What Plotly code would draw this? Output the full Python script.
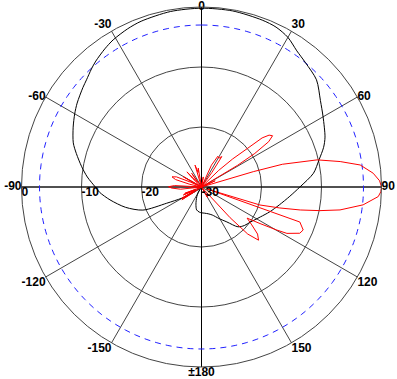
import plotly.graph_objects as go

# ---- data (angles in degrees, clockwise from top; levels in dB) ----
black_theta = [-180, -175, -168, -162, -154, -148, -140, -132, -126, -122, -119.5, -115, -111.5,
               -105, -98, -93, -90, -85, -80.4, -75, -71, -65, -60, -56, -50, -47, -43, -40,
               -35, -31, -25, -20, -10, 0, 10, 20, 25, 30, 35, 40, 47, 54, 60, 68, 72, 77, 83,
               90, 96, 103, 110, 117, 126, 132, 137.5, 144, 151, 159, 166, 173, 180]
black_db = [-25.7, -25.8, -26.1, -27.0, -28.2, -29.0, -29.7, -29.6, -28.8, -27.3, -26.2, -23.6, -19.5,
            -16.9, -14.6, -13.0, -12.3, -10.9, -9.75, -8.4, -7.4, -6.4, -5.6, -5.0, -4.2, -3.8, -3.1, -2.6,
            -1.9, -1.4, -0.9, -0.6, -0.3, -0.2, -0.2, -0.4, -0.6, -1.2, -2.3, -3.0, -3.8, -5.5, -6.6, -7.8,
            -8.6, -9.9, -11.2, -13.6, -15.2, -16.7, -17.9, -19.0, -20.0, -20.4, -21.0, -22.8, -24.0,
            -25.0, -25.4, -25.6, -25.7]

red_theta = [-180, -130, -125, -123, -121.5, -119.7, -117, -113.7, -112.3, -110.9, -108,
             -99, -96, -92, -89.5, -87, -85, -79, -77, -74, -71, -68, -66, -64, -62, -60.5,
             -58.5, -52, -46, -44, -42, -38, -35.6, -33, -20, -16.5, -13, -9.7, -7, 5, 10, 13,
             22, 24.5, 28, 31, 33.7, 35.5, 37, 44, 46, 48, 50, 51, 52.5, 54.2, 56, 57.8, 59, 60,
             64, 65.5, 67, 72, 73.5, 74.3, 76.8, 79.6, 82.1, 85.4, 88, 90, 91.5, 93.1, 96.3,
             99.4, 101.3, 103.1, 105, 107.1, 108.3, 109, 109.6, 112.9, 115.2, 118.5, 119.8,
             122, 124.3, 127, 130, 133, 135.5, 137, 138.5, 148, 150, 152, 180]
red_db = [-30, -30, -28.5, -26.1, -28.5, -26.2, -29, -26.7, -29, -27, -30,
          -30, -26.5, -25, -24.5, -25.5, -30, -30, -28, -25.5, -24.8, -25.5, -28, -30, -28, -26.5,
          -29, -30, -28, -26.5, -28.5, -29, -27.2, -30, -30, -26.2, -27.5, -26.8, -30, -30, -28.3, -30,
          -30, -26, -24.2, -24.4, -23.9, -27, -30, -30, -26, -23, -20, -17, -15.8, -15.4, -16.5, -19.5, -23, -30,
          -30, -27.5, -30, -30, -21, -16, -10.2, -6.5, -3.3, -1.3, -0.3, 0, -0.1, -0.5, -2.9,
          -6.6, -9.9, -13.1, -16.5, -19.8, -28, -29, -12.6, -11.6, -11.9, -13.8, -15.6,
          -18.5, -20.8, -19.5, -17.8, -17.0, -19, -23, -30, -30, -28, -30, -30]

ref_level = -3
r_min, r_max = -30, 0
ring_vals = [-20, -10]
angle_ticks = [0, 30, 60, 90, 120, 150, 180, 210, 240, 270, 300, 330]
angle_labels = ["0", "30", "60", "90", "120", "150", "±180", "-150", "-120", "-90", "-60", "-30"]
radial_label_vals = [0, -10, -20, -30]
radial_labels = ["0", "-10", "-20", "-30"]

fig = go.Figure()

# black main axes (0-180, 90-270)
for a in (0, 90):
    fig.add_trace(go.Scatterpolar(r=[r_max, r_min, r_max], theta=[a, a, a + 180], mode="lines",
                                  line=dict(color="black", width=1), hoverinfo="skip"))

# -3 dB reference circle
circ_theta = list(range(0, 361, 2))
fig.add_trace(go.Scatterpolar(r=[ref_level] * len(circ_theta), theta=circ_theta, mode="lines",
                              line=dict(color="#2020ff", width=1, dash="6px,5px"), hoverinfo="skip"))

fig.add_trace(go.Scatterpolar(r=black_db, theta=black_theta, mode="lines",
                              line=dict(color="black", width=1, shape="spline", smoothing=0.8)))
fig.add_trace(go.Scatterpolar(r=red_db, theta=red_theta, mode="lines",
                              line=dict(color="#ff0000", width=1)))

font = dict(family="Liberation Sans, Arial, sans-serif", size=12, color="black", weight="bold")
pos = ["middle center", "top right", "middle right", "middle right", "bottom right", "bottom right",
       "bottom center", "bottom left", "bottom left", "middle left", "middle left", "top left"]
fig.add_trace(go.Scatterpolar(r=[r_max] * len(angle_ticks), theta=angle_ticks, mode="text",
                              text=angle_labels, textposition=pos, textfont=font, cliponaxis=False,
                              hoverinfo="skip"))
fig.add_trace(go.Scatterpolar(r=radial_label_vals, theta=[270] * 4, mode="text",
                              text=radial_labels, textposition="bottom right", textfont=font,
                              cliponaxis=False, hoverinfo="skip"))

W, H = 397, 379
fig.update_layout(
    width=W, height=H, margin=dict(l=0, r=0, t=0, b=0),
    paper_bgcolor="white", showlegend=False,
    polar=dict(
        domain=dict(x=[21.5 / W, 381.5 / W], y=[12 / H, 372 / H]),
        bgcolor="white",
        angularaxis=dict(direction="clockwise", rotation=90, tickmode="array", tickvals=angle_ticks,
                         showticklabels=False, ticks="", gridcolor="#444444", gridwidth=1,
                         showline=True, linecolor="#444444", linewidth=1),
        radialaxis=dict(range=[r_min, r_max], tickmode="array", tickvals=ring_vals,
                        showticklabels=False, ticks="", showline=False,
                        gridcolor="#444444", gridwidth=1),
    ),
)
fig.write_html("out.html")
